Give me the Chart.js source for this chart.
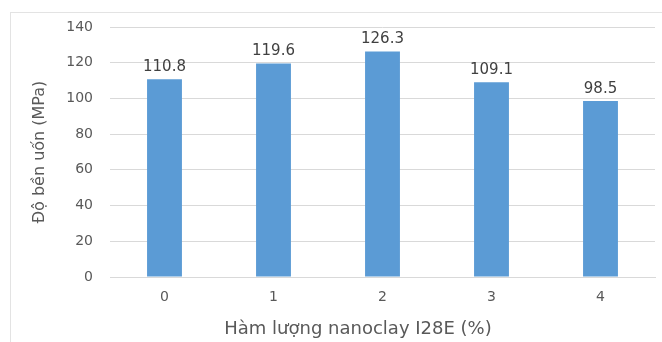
<!DOCTYPE html>
<html lang="vi">
<head>
  <meta charset="UTF-8">
  <title>Độ bền uốn theo hàm lượng nanoclay</title>
  <script src="https://cdn.jsdelivr.net/npm/chart.js@4.4.0/dist/chart.umd.min.js"></script>
  <style>
    html, body {
      margin: 0;
      padding: 0;
      background: #fff;
    }
    #wrap {
      position: relative;
      width: 662px;
      height: 342px;
      overflow: hidden;
    }
    #frame {
      position: absolute;
      left: 10px;
      top: 12px;
      width: 670px;
      height: 360px;
      border: 1px solid #e3e3e3;
      box-sizing: border-box;
    }
    #chart {
      position: absolute;
      left: 0;
      top: 0;
    }
  </style>
</head>
<body>
  <div id="wrap">
    <div id="frame"></div>
    <canvas id="chart" width="662" height="342"></canvas>
  </div>
  <script>
    // Dữ liệu
    const categories = ['0', '1', '2', '3', '4'];
    const values = [110.8, 119.6, 126.3, 109.1, 98.5];
    const yTicks = [0, 20, 40, 60, 80, 100, 120, 140];
    const xTitle = 'Hàm lượng nanoclay I28E (%)';

    const FONT = "'DejaVu Sans', 'Liberation Sans', sans-serif";

    // Vẽ nhãn giá trị trên đầu cột và tiêu đề trục x
    const barLabels = {
      id: 'barLabels',
      afterDatasetsDraw(chart) {
        const ctx = chart.ctx;
        const meta = chart.getDatasetMeta(0);
        ctx.save();
        ctx.font = '15px ' + FONT;
        ctx.fillStyle = '#404040';
        ctx.textAlign = 'center';
        ctx.textBaseline = 'alphabetic';
        meta.data.forEach((bar, i) => {
          ctx.fillText(values[i].toFixed(1), bar.x, bar.y - 8);
        });
        // tiêu đề trục x lệch trái như hình gốc (căn giữa theo khung)
        ctx.font = '18px ' + FONT;
        ctx.fillStyle = '#595959';
        ctx.fillText(xTitle, 358, 334);
        ctx.restore();
      }
    };

    new Chart(document.getElementById('chart'), {
      type: 'bar',
      data: {
        labels: categories,
        datasets: [{
          data: values,
          backgroundColor: '#5b9bd5',
          categoryPercentage: 1,
          barPercentage: 0.32
        }]
      },
      options: {
        responsive: false,
        animation: false,
        layout: { padding: { left: 30, right: 7, top: 27, bottom: 2 } },
        plugins: { legend: { display: false }, tooltip: { enabled: false } },
        scales: {
          x: {
            grid: { display: false, drawTicks: false },
            border: { color: '#d9d9d9' },
            ticks: { color: '#595959', font: { family: FONT, size: 14 }, padding: 12 },
            afterFit(s) { s.height = 63; }
          },
          y: {
            min: 0,
            max: 140,
            afterBuildTicks(s) { s.ticks = yTicks.map(v => ({ value: v })); },
            grid: { color: '#d9d9d9', drawTicks: false },
            border: { display: false },
            ticks: { color: '#595959', font: { family: FONT, size: 14 }, padding: 17 },
            title: {
              display: true,
              text: 'Độ bền uốn (MPa)',
              color: '#595959',
              font: { family: FONT, size: 16 },
              padding: { top: 0, bottom: 4 }
            },
            afterFit(s) { s.width = 80; }
          }
        }
      },
      plugins: [barLabels]
    });
  </script>
</body>
</html>
